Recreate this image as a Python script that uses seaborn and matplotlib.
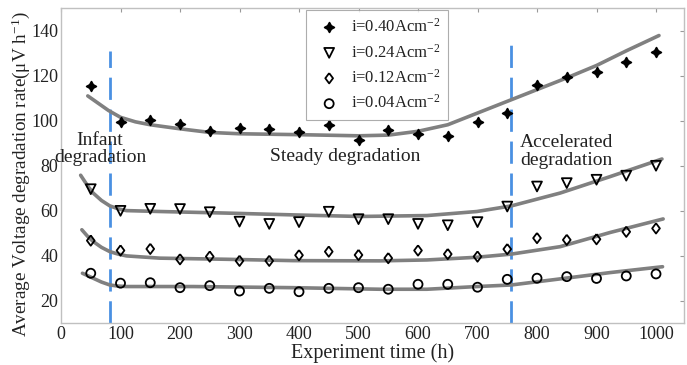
import numpy as np
import pandas as pd
import matplotlib
matplotlib.use("Agg")
import matplotlib.pyplot as plt
import seaborn as sns

# ---------------- data ----------------
time_h = [50, 100, 150, 200, 250, 300, 350, 400, 450, 500,
          550, 600, 650, 700, 750, 800, 850, 900, 950, 1000]

rate_040 = [115.6, 99.5, 100.4, 98.7, 95.6, 96.9, 96.3, 94.8, 98.2, 91.6,
            95.7, 94.2, 93.3, 99.6, 103.4, 115.7, 119.2, 121.5, 126.2, 130.4]
rate_024 = [69.6, 60.0, 60.9, 60.8, 59.4, 55.2, 54.2, 55.0, 59.6, 56.3,
            56.3, 54.2, 53.6, 55.0, 61.9, 70.8, 72.3, 73.8, 75.6, 80.0]
rate_012 = [46.8, 42.4, 43.1, 38.5, 39.7, 37.8, 37.8, 40.3, 41.9, 40.4,
            39.0, 42.4, 40.8, 39.7, 43.0, 47.9, 47.1, 47.4, 50.7, 52.2]
rate_004 = [32.3, 27.9, 28.1, 25.9, 26.8, 24.4, 25.6, 24.1, 25.6, 25.9,
            25.2, 27.4, 27.4, 26.1, 29.6, 30.1, 30.8, 30.0, 31.1, 32.0]

# fitted trend curves
fit1_t = [45, 80, 100, 125, 150, 200, 250, 300, 400, 500, 550, 600, 650, 700, 750, 800, 850, 900, 950, 1005]
fit1_v = [111.0, 104.5, 101.5, 99.5, 98.2, 96.4, 94.8, 94.2, 93.8, 93.3, 93.6, 95.3, 98.2, 103.4, 108.6, 113.8, 119.0, 124.5, 131.0, 137.8]
fit2_t = [33, 45, 54, 68, 82, 96, 110, 166, 278, 390, 502, 615, 699, 757, 839, 923, 1010]
fit2_v = [75.8, 71.0, 67.9, 64.6, 62.2, 60.9, 60.1, 59.7, 59.0, 58.2, 57.5, 57.9, 59.7, 62.2, 67.9, 75.2, 83.0]
fit3_t = [35, 45, 54, 68, 82, 96, 110, 166, 278, 390, 536, 615, 699, 757, 839, 923, 1012]
fit3_v = [51.6, 48.6, 46.4, 43.8, 41.9, 40.8, 40.0, 39.0, 38.5, 37.9, 37.8, 38.2, 39.4, 40.8, 44.1, 50.4, 56.4]
fit4_t = [36, 54, 68, 82, 96, 110, 222, 390, 536, 615, 699, 757, 839, 923, 1011]
fit4_v = [32.3, 30.1, 28.4, 27.1, 26.6, 26.4, 26.4, 25.9, 25.2, 25.2, 26.4, 27.1, 29.8, 32.6, 35.2]

labels = [r"i=0.40Acm$^{\mathregular{-2}}$", r"i=0.24Acm$^{\mathregular{-2}}$",
          r"i=0.12Acm$^{\mathregular{-2}}$", r"i=0.04Acm$^{\mathregular{-2}}$"]
phase_bounds = [82, 757]

x_ticks = [0, 100, 200, 300, 400, 500, 600, 700, 800, 900, 1000]
y_ticks = [20, 40, 60, 80, 100, 120, 140]

# ---------------- style ----------------
sns.set_theme(style="white")
plt.rcParams["font.family"] = ["Liberation Serif", "DejaVu Serif"]
plt.rcParams["mathtext.fontset"] = "custom"
plt.rcParams["mathtext.rm"] = "Liberation Serif"
plt.rcParams["mathtext.it"] = "Liberation Serif:italic"

fig = plt.figure(figsize=(6.87, 3.65), dpi=100)
ax = fig.add_axes([0.0888, 0.1137, 0.9956 - 0.0888, 0.978 - 0.1137])

curve_color = "#808080"
for t, v in [(fit1_t, fit1_v), (fit2_t, fit2_v), (fit3_t, fit3_v), (fit4_t, fit4_v)]:
    sns.lineplot(x=t, y=v, ax=ax, color=curve_color, lw=2.6, sort=False,
                 estimator=None, zorder=2, legend=False)

diamond = [(0, 1), (0.75, 0), (0, -1), (-0.75, 0), (0, 1)]
marker_specs = [
    (rate_040, (4, 1, 0), "black", 48),
    (rate_024, "v", "none", 50),
    (rate_012, diamond, "none", 55),
    (rate_004, "o", "none", 42),
]
for (vals, mk, fc, s), lab in zip(marker_specs, labels):
    sns.scatterplot(x=time_h, y=vals, ax=ax, marker=mk, s=s,
                    facecolor=fc, edgecolor="black", linewidth=1.3,
                    label=lab, zorder=3)

for xb, top in zip(phase_bounds, [131, 134]):
    ax.plot([xb, xb], [10, top], color="#4a90e2", lw=2.0,
            linestyle=(0, (8, 3.5)), zorder=1)

ax.text(65.5, 87.5, "Infant\ndegradation", ha="center", va="center",
        fontsize=14, linespacing=1.05, color="#222222")
ax.text(478, 84, "Steady degradation", ha="center", va="center",
        fontsize=14, color="#222222")
ax.text(771, 86.4, "Accelerated\ndegradation", ha="left", va="center",
        fontsize=14, linespacing=1.05, color="#222222")

ax.set_xlim(0, 1047)
ax.set_ylim(10, 150)
ax.set_xticks(x_ticks)
ax.set_yticks(y_ticks)
ax.tick_params(direction="in", length=3, width=0.8, color="#999999",
               labelsize=13, labelcolor="#222222", top=True, right=True,
               labeltop=False, labelright=False, pad=2)
for sp in ax.spines.values():
    sp.set_color("#c0c0c0")
    sp.set_linewidth(1.0)

ax.set_xlabel("Experiment time (h)", fontsize=14.5, color="#222222", labelpad=0)
ax.set_ylabel(r"Average Voltage degradation rate($\mathregular{\mu}$V h$^{\mathregular{-1}}$)",
              fontsize=13.8, color="#222222")
ax.yaxis.set_label_coords(-0.046, 0.475)

leg = ax.legend(loc="upper left", bbox_to_anchor=(0.393, 0.995), borderaxespad=0,
                fontsize=12, frameon=True, fancybox=False, handlelength=1.8,
                handletextpad=0.4, labelspacing=0.45, borderpad=0.5)
leg.get_frame().set_edgecolor("#999999")
leg.get_frame().set_linewidth(0.8)
for t in leg.get_texts():
    t.set_color("#222222")

fig.savefig("out.png", dpi=100)
